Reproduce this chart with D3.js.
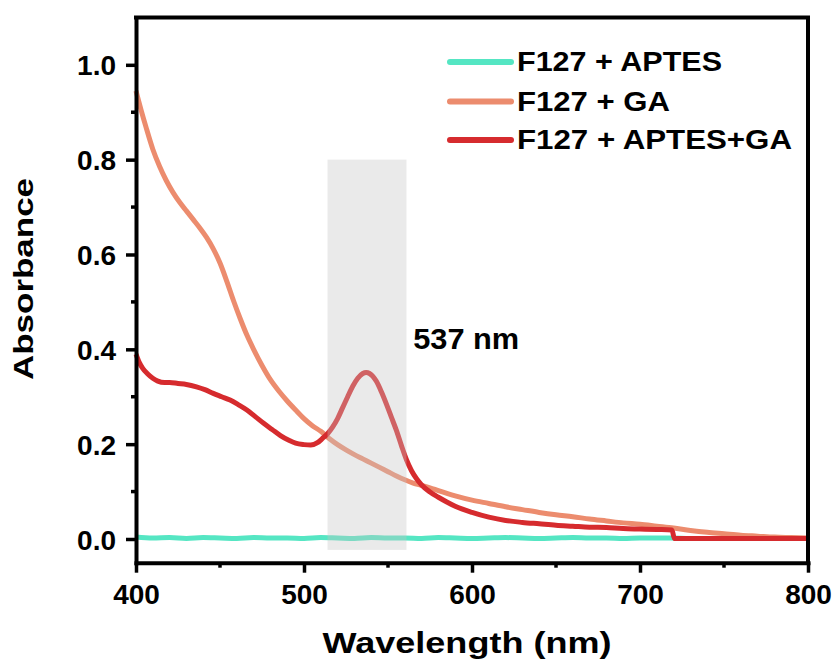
<!DOCTYPE html>
<html>
<head>
<meta charset="utf-8">
<script src="https://cdn.jsdelivr.net/npm/d3@7/dist/d3.min.js"></script>
<style>
  html, body { margin: 0; padding: 0; background: #fff; }
  svg { display: block; }
  text { font-family: "Liberation Sans", Arial, Helvetica, sans-serif; font-weight: bold; fill: #000; }
</style>
</head>
<body>
<svg id="chart" width="839" height="669"></svg>
<script>
// ---------------- DATA ----------------
const seriesNames = ["F127 + APTES", "F127 + GA", "F127 + APTES+GA"];
const seriesColors = ["#55E6C3", "#EC8C6E", "#D62B2E"];

const aptesWl  = [400,410,420,430,440,450,460,470,480,490,500,510,520,530,540,550,560,570,580,590,600,610,620,630,640,650,660,670,680,690,700,710,718,730,750,770,790,800];
const aptesAbs = [0.004,0.002,0.003,0.001,0.003,0.002,0.001,0.003,0.002,0.002,0.001,0.003,0.002,0.001,0.003,0.002,0.002,0.001,0.003,0.002,0.001,0.002,0.003,0.002,0.001,0.002,0.003,0.002,0.002,0.001,0.002,0.002,0.002,0.001,0.001,0.001,0.001,0.001];

const gaWl  = [400,403,406,410,414,418,422,426,430,434,438,442,446,450,454,458,462,466,470,475,480,485,490,495,500,505,510,515,520,525,530,535,540,545,550,555,560,565,570,575,580,590,600,610,620,630,640,650,660,670,680,690,700,710,720,730,740,750,760,770,780,790,800];
const gaAbs = [0.945,0.905,0.868,0.822,0.786,0.756,0.731,0.710,0.692,0.674,0.656,0.636,0.612,0.582,0.544,0.503,0.465,0.430,0.400,0.366,0.336,0.312,0.291,0.272,0.254,0.239,0.227,0.212,0.199,0.188,0.178,0.169,0.160,0.151,0.142,0.133,0.125,0.118,0.113,0.108,0.102,0.091,0.082,0.075,0.068,0.062,0.056,0.051,0.047,0.042,0.038,0.034,0.031,0.027,0.023,0.018,0.014,0.011,0.008,0.006,0.004,0.003,0.002];

const mixWl  = [400,402,404,407,410,413,417,420,425,430,436,441,446,451,456,461,466,471,476,481,486,491,495,500,504,508,511,514,517,520,523,526,529,532,535,537,539,541,543,546,549,552,555,558,561,564,567,570,575,580,585,590,600,610,620,630,640,650,660,670,680,690,700,710,719,720.5,730,750,770,790,800];
const mixAbs = [0.390,0.372,0.360,0.348,0.339,0.333,0.330,0.330,0.328,0.326,0.321,0.315,0.307,0.300,0.293,0.283,0.272,0.258,0.244,0.231,0.218,0.208,0.202,0.199,0.198,0.203,0.212,0.222,0.236,0.254,0.277,0.300,0.322,0.339,0.349,0.351,0.349,0.343,0.333,0.311,0.285,0.257,0.229,0.197,0.167,0.144,0.127,0.114,0.099,0.088,0.078,0.069,0.056,0.046,0.039,0.035,0.032,0.029,0.027,0.025,0.024,0.022,0.021,0.020,0.019,0.001,0.001,0.001,0.001,0.001,0.001];

const xMajorTicks = [400,500,600,700,800];
const xMinorTicks = [450,550,650,750];
const yMajorTicks = [0.0,0.2,0.4,0.6,0.8,1.0];
const yMinorTicks = [0.1,0.3,0.5,0.7,0.9];

const bandWl  = [514, 561];
const bandAbs = [-0.023, 0.8];
const peakLabel = "537 nm";

const xTitle = "Wavelength (nm)";
const yTitle = "Absorbance";

// ---------------- CHART ----------------
const svg = d3.select("#chart");
const x = d3.scaleLinear().domain([400, 800]).range([136, 808]);
const y = d3.scaleLinear().domain([-0.05, 1.1]).range([562.7, 17.4]);

const series = [
  {name: seriesNames[0], color: seriesColors[0], data: aptesWl.map((w,i)=>[w, aptesAbs[i]])},
  {name: seriesNames[1], color: seriesColors[1], data: gaWl.map((w,i)=>[w, gaAbs[i]])},
  {name: seriesNames[2], color: seriesColors[2], data: mixWl.map((w,i)=>[w, mixAbs[i]])}
];

const line = d3.line().x(d=>x(d[0])).y(d=>y(d[1])).curve(d3.curveMonotoneX);

const plot = svg.append("g");
series.forEach(s => {
  plot.append("path")
    .attr("d", line(s.data))
    .attr("fill", "none")
    .attr("stroke", s.color)
    .attr("stroke-width", 5)
    .attr("stroke-linejoin", "round")
    .attr("stroke-linecap", "butt");
});

// translucent band over the curves
svg.append("rect")
  .attr("x", x(bandWl[0]))
  .attr("y", y(bandAbs[1]))
  .attr("width", x(bandWl[1]) - x(bandWl[0]))
  .attr("height", y(bandAbs[0]) - y(bandAbs[1]))
  .attr("fill", "#c4c4c4")
  .attr("fill-opacity", 0.36);

// peak label
svg.append("text")
  .attr("x", x(565))
  .attr("y", y(0.40))
  .attr("font-size", 29)
  .attr("textLength", 106)
  .attr("lengthAdjust", "spacingAndGlyphs")
  .text(peakLabel);

// frame (top and right)
const [x0, x1] = x.range();
const [yb, yt] = y.range();
svg.append("path")
  .attr("d", `M${x0},${yt}H${x1}V${yb}`)
  .attr("fill", "none").attr("stroke", "#000").attr("stroke-width", 4).attr("stroke-linecap", "square");

// axes
const xAxis = svg.append("g").attr("transform", `translate(0,${yb})`)
  .call(d3.axisBottom(x).tickValues(xMajorTicks).tickSize(10).tickSizeOuter(0).tickPadding(12).tickFormat(d3.format("d")));
xAxis.append("g").selectAll("line").data(xMinorTicks).join("line")
  .attr("x1", d=>x(d)).attr("x2", d=>x(d)).attr("y1", 0).attr("y2", 5);

const yAxis = svg.append("g").attr("transform", `translate(${x0},0)`)
  .call(d3.axisLeft(y).tickValues(yMajorTicks).tickSize(10).tickSizeOuter(0).tickPadding(10).tickFormat(d3.format(".1f")));
yAxis.append("g").selectAll("line").data(yMinorTicks).join("line")
  .attr("y1", d=>y(d)).attr("y2", d=>y(d)).attr("x1", 0).attr("x2", -5);

[xAxis, yAxis].forEach(a => {
  a.select(".domain").attr("stroke", "#000").attr("stroke-width", 4).attr("stroke-linecap", "square");
  a.selectAll("line").attr("stroke", "#000").attr("stroke-width", 3.5);
  a.selectAll("text").attr("font-size", 28).attr("font-family", "'Liberation Sans', Arial, sans-serif").attr("font-weight", "bold").attr("fill", "#000");
});
xAxis.selectAll(".tick text").attr("dy", null).attr("y", 41);
yAxis.selectAll(".tick text").attr("dy", "0.36em");

// axis titles
svg.append("text")
  .attr("x", 467).attr("y", 653)
  .attr("text-anchor", "middle")
  .attr("font-size", 30)
  .attr("textLength", 289)
  .attr("lengthAdjust", "spacingAndGlyphs")
  .text(xTitle);

svg.append("text")
  .attr("transform", "translate(33,279) rotate(-90)")
  .attr("text-anchor", "middle")
  .attr("font-size", 28)
  .attr("textLength", 202)
  .attr("lengthAdjust", "spacingAndGlyphs")
  .text(yTitle);

// legend
const legendY = [62, 101.5, 140];
const legendLens = [205, 153, 275];
const legend = svg.append("g");
series.forEach((s, i) => {
  legend.append("line")
    .attr("x1", 450).attr("x2", 511)
    .attr("y1", legendY[i]).attr("y2", legendY[i])
    .attr("stroke", s.color).attr("stroke-width", 6).attr("stroke-linecap", "round");
  legend.append("text")
    .attr("x", 517).attr("y", legendY[i] + 9)
    .attr("font-size", 28)
    .attr("textLength", legendLens[i])
    .attr("lengthAdjust", "spacingAndGlyphs")
    .text(s.name);
});
</script>
</body>
</html>
